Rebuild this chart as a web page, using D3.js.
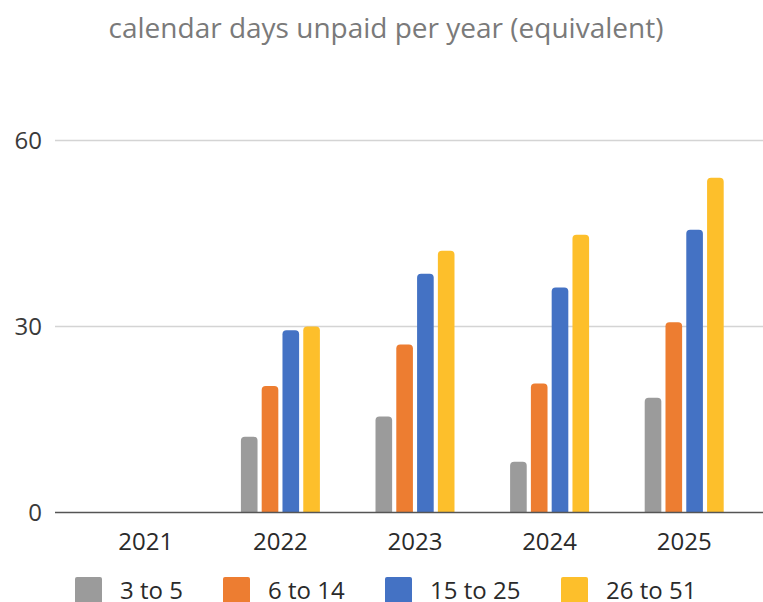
<!DOCTYPE html>
<html>
<head>
<meta charset="utf-8">
<script src="https://cdn.jsdelivr.net/npm/d3@7/dist/d3.min.js"></script>
<style>
  body { margin: 0; background: #fff; }
  svg { display: block; font-family: "Open Sans", sans-serif; }
</style>
</head>
<body>
<div id="chart"></div>
<script>
const title = "calendar days unpaid per year (equivalent)";
const years = ["2021", "2022", "2023", "2024", "2025"];
const seriesNames = ["3 to 5", "6 to 14", "15 to 25", "26 to 51"];
const seriesColors = ["#9b9b9b", "#ed7d31", "#4472c4", "#fdbf2b"];
const yTicks = [0, 30, 60];

// values read per series, one per year (2021 is empty)
const days3to5 = [null, 12.2, 15.5, 8.2, 18.5];
const days6to14 = [null, 20.4, 27.1, 20.8, 30.7];
const days15to25 = [null, 29.4, 38.5, 36.3, 45.6];
const days26to51 = [null, 30.0, 42.2, 44.8, 54.0];
const seriesValues = [days3to5, days6to14, days15to25, days26to51];

const width = 763, height = 602;

const svg = d3.select("#chart").append("svg")
  .attr("width", width)
  .attr("height", height);

const x = d3.scaleBand().domain(years).range([78.5, 751.5]);
const xInner = d3.scaleBand().domain(seriesNames).range([-39.5, 39.5]).paddingInner(0.2);
const y = d3.scaleLinear().domain([0, 60]).range([512.5, 140.5]);

// title
svg.append("text")
  .attr("x", 386)
  .attr("y", 38)
  .attr("text-anchor", "middle")
  .attr("fill", "#7a7a7a")
  .style("font-size", "28px")
  .text(title);

// gridlines
svg.append("g")
  .selectAll("line")
  .data(yTicks.filter(d => d !== 0))
  .join("line")
  .attr("x1", 55)
  .attr("x2", width)
  .attr("y1", d => y(d))
  .attr("y2", d => y(d))
  .attr("stroke", "#d4d4d4")
  .attr("stroke-width", 1.5);

// y labels
svg.append("g")
  .selectAll("text")
  .data(yTicks)
  .join("text")
  .attr("x", 42)
  .attr("y", d => y(d))
  .attr("dy", "0.36em")
  .attr("text-anchor", "end")
  .attr("fill", "#3a3a3a")
  .style("font-size", "24px")
  .text(d => d);

// bars with rounded tops
function barPath(x0, w, yTop, yBase, r) {
  r = Math.min(r, w / 2, yBase - yTop);
  return `M${x0},${yBase}V${yTop + r}Q${x0},${yTop} ${x0 + r},${yTop}` +
    `H${x0 + w - r}Q${x0 + w},${yTop} ${x0 + w},${yTop + r}V${yBase}Z`;
}

const barData = [];
seriesNames.forEach((s, si) => {
  years.forEach((yr, yi) => {
    const v = seriesValues[si][yi];
    if (v != null) barData.push({ series: s, year: yr, value: v, color: seriesColors[si] });
  });
});

svg.append("g")
  .selectAll("path")
  .data(barData)
  .join("path")
  .attr("fill", d => d.color)
  .attr("d", d => barPath(
    x(d.year) + x.bandwidth() / 2 + xInner(d.series),
    xInner.bandwidth(),
    y(d.value),
    y(0),
    4));

// baseline axis
svg.append("line")
  .attr("x1", 55)
  .attr("x2", width)
  .attr("y1", y(0))
  .attr("y2", y(0))
  .attr("stroke", "#555")
  .attr("stroke-width", 1.5);

// x labels
svg.append("g")
  .selectAll("text")
  .data(years)
  .join("text")
  .attr("x", d => x(d) + x.bandwidth() / 2)
  .attr("y", 550)
  .attr("text-anchor", "middle")
  .attr("fill", "#2a2a2a")
  .style("font-size", "24px")
  .text(d => d);

// legend
const legendX = [75, 223, 385, 561];
const legend = svg.append("g")
  .selectAll("g")
  .data(seriesNames)
  .join("g")
  .attr("transform", (d, i) => `translate(${legendX[i]},577)`);

legend.append("rect")
  .attr("width", 27)
  .attr("height", 27)
  .attr("rx", 2)
  .attr("fill", (d, i) => seriesColors[i]);

legend.append("text")
  .attr("x", 45)
  .attr("y", 22)
  .attr("fill", "#2a2a2a")
  .style("font-size", "24px")
  .text(d => d);
</script>
</body>
</html>
